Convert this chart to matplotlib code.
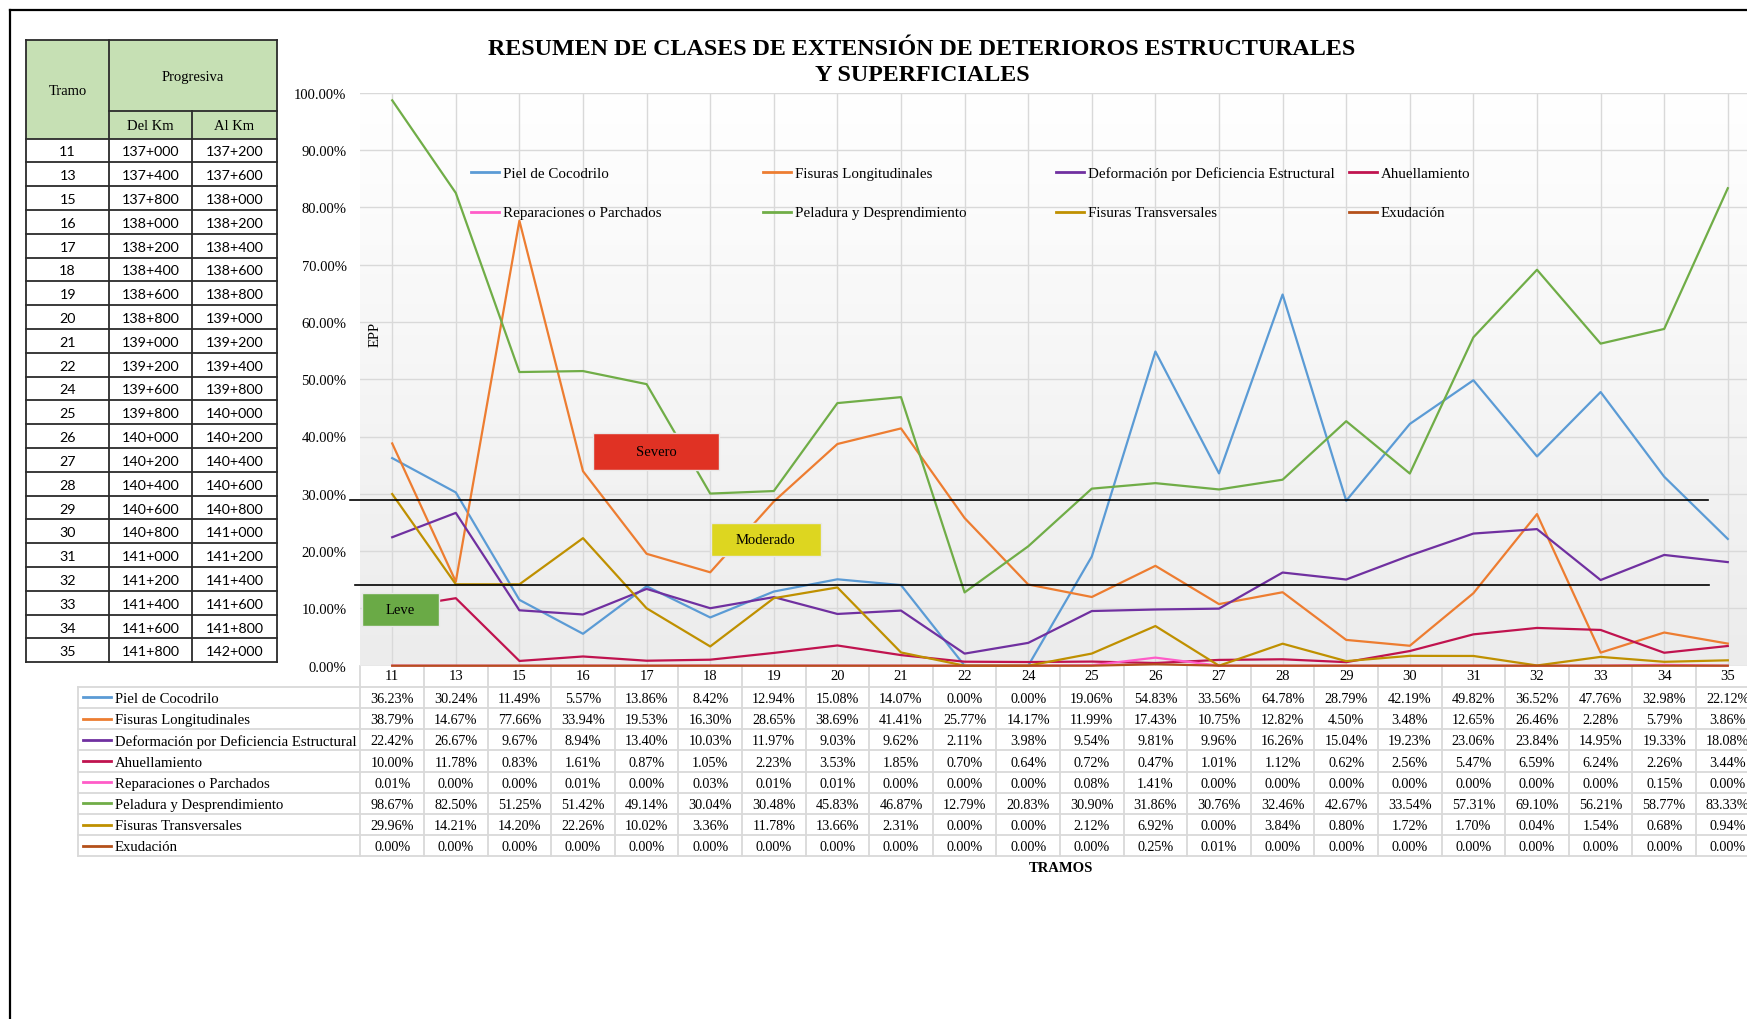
import matplotlib
matplotlib.use("Agg")
import matplotlib.pyplot as plt
import numpy as np
from matplotlib.colors import LinearSegmentedColormap
from matplotlib.patches import Rectangle
from matplotlib.ticker import PercentFormatter

# ---------------- data ----------------
tramos = ["11", "13", "15", "16", "17", "18", "19", "20", "21", "22", "24",
          "25", "26", "27", "28", "29", "30", "31", "32", "33", "34", "35"]
del_km = ["137+000", "137+400", "137+800", "138+000", "138+200", "138+400",
          "138+600", "138+800", "139+000", "139+200", "139+600", "139+800",
          "140+000", "140+200", "140+400", "140+600", "140+800", "141+000",
          "141+200", "141+400", "141+600", "141+800"]
al_km = ["137+200", "137+600", "138+000", "138+200", "138+400", "138+600",
         "138+800", "139+000", "139+200", "139+400", "139+800", "140+000",
         "140+200", "140+400", "140+600", "140+800", "141+000", "141+200",
         "141+400", "141+600", "141+800", "142+000"]

series_names = ["Piel de Cocodrilo", "Fisuras Longitudinales",
                "Deformación por Deficiencia Estructural", "Ahuellamiento",
                "Reparaciones o Parchados", "Peladura y Desprendimiento",
                "Fisuras Transversales", "Exudación"]

piel = [36.23, 30.24, 11.49, 5.57, 13.86, 8.42, 12.94, 15.08, 14.07, 0.00, 0.00,
        19.06, 54.83, 33.56, 64.78, 28.79, 42.19, 49.82, 36.52, 47.76, 32.98, 22.12]
fis_long = [38.79, 14.67, 77.66, 33.94, 19.53, 16.30, 28.65, 38.69, 41.41, 25.77, 14.17,
            11.99, 17.43, 10.75, 12.82, 4.50, 3.48, 12.65, 26.46, 2.28, 5.79, 3.86]
deform = [22.42, 26.67, 9.67, 8.94, 13.40, 10.03, 11.97, 9.03, 9.62, 2.11, 3.98,
          9.54, 9.81, 9.96, 16.26, 15.04, 19.23, 23.06, 23.84, 14.95, 19.33, 18.08]
ahuell = [10.00, 11.78, 0.83, 1.61, 0.87, 1.05, 2.23, 3.53, 1.85, 0.70, 0.64,
          0.72, 0.47, 1.01, 1.12, 0.62, 2.56, 5.47, 6.59, 6.24, 2.26, 3.44]
repar = [0.01, 0.00, 0.00, 0.01, 0.00, 0.03, 0.01, 0.01, 0.00, 0.00, 0.00,
         0.08, 1.41, 0.00, 0.00, 0.00, 0.00, 0.00, 0.00, 0.00, 0.15, 0.00]
pelad = [98.67, 82.50, 51.25, 51.42, 49.14, 30.04, 30.48, 45.83, 46.87, 12.79, 20.83,
         30.90, 31.86, 30.76, 32.46, 42.67, 33.54, 57.31, 69.10, 56.21, 58.77, 83.33]
fis_trans = [29.96, 14.21, 14.20, 22.26, 10.02, 3.36, 11.78, 13.66, 2.31, 0.00, 0.00,
             2.12, 6.92, 0.00, 3.84, 0.80, 1.72, 1.70, 0.04, 1.54, 0.68, 0.94]
exud = [0.00, 0.00, 0.00, 0.00, 0.00, 0.00, 0.00, 0.00, 0.00, 0.00, 0.00,
        0.00, 0.25, 0.01, 0.00, 0.00, 0.00, 0.00, 0.00, 0.00, 0.00, 0.00]

series_values = [piel, fis_long, deform, ahuell, repar, pelad, fis_trans, exud]
series_colors = ["#5B9BD5", "#ED7D31", "#7030A0", "#C0134F",
                 "#FF5CC8", "#70AD47", "#BF9000", "#B4501A"]

# severity limits (fraction)
limite_severo = 0.29
limite_moderado = 0.14

# ---------------- figure ----------------
plt.rcParams["font.family"] = ["Liberation Serif", "DejaVu Serif"]
W, H = 1747, 1020
fig = plt.figure(figsize=(W / 100, H / 100), dpi=100)

# pixel overlay (behind) for frame + left table
pax = fig.add_axes([0, 0, 1, 1])
pax.set_xlim(0, W)
pax.set_ylim(H, 0)
pax.axis("off")
pax.set_zorder(0)

# pixel overlay (front) for legend
oax = fig.add_axes([0, 0, 1, 1])
oax.set_xlim(0, W)
oax.set_ylim(H, 0)
oax.axis("off")
oax.set_zorder(10)

# outer frame
pax.plot([9.7, W + 5], [10.7, 10.7], color="black", lw=1.6, clip_on=False)
pax.plot([9.7, 9.7], [10.7, H + 5], color="black", lw=1.6, clip_on=False)

# ----- left table -----
cx = [26, 109.3, 192.3, 276.7]
y_top, y_mid, y_head = 40.8, 111.5, 139.5
row_h = (663.3 - y_head) / len(tramos)
green = "#C6E0B4"
pax.add_patch(Rectangle((cx[0], y_top), cx[3] - cx[0], y_head - y_top,
                        facecolor=green, edgecolor="none"))
bc = "#2b2b2b"
blw = 1.3
pax.plot([cx[0], cx[3]], [y_top, y_top], color=bc, lw=blw)
pax.plot([cx[1], cx[3]], [y_mid, y_mid], color=bc, lw=blw)
for i in range(len(tramos) + 1):
    yy = y_head + i * row_h
    pax.plot([cx[0], cx[3]], [yy, yy], color=bc, lw=blw)
y_bot = y_head + len(tramos) * row_h
pax.plot([cx[0], cx[0]], [y_top, y_bot], color=bc, lw=blw)
pax.plot([cx[1], cx[1]], [y_top, y_bot], color=bc, lw=blw)
pax.plot([cx[2], cx[2]], [y_mid, y_bot], color=bc, lw=blw)
pax.plot([cx[3], cx[3]], [y_top, y_bot], color=bc, lw=blw)

pax.text((cx[0] + cx[1]) / 2, (y_top + y_head) / 2 + 1, "Tramo", ha="center", va="center", fontsize=10.5)
pax.text((cx[1] + cx[3]) / 2, (y_top + y_mid) / 2 + 1, "Progresiva", ha="center", va="center", fontsize=10.5)
pax.text((cx[1] + cx[2]) / 2, (y_mid + y_head) / 2 + 1, "Del Km", ha="center", va="center", fontsize=10.5)
pax.text((cx[2] + cx[3]) / 2, (y_mid + y_head) / 2 + 1, "Al Km", ha="center", va="center", fontsize=10.5)
for i, (t, d, a) in enumerate(zip(tramos, del_km, al_km)):
    yy = y_head + (i + 0.5) * row_h + 1
    pax.text((cx[0] + cx[1]) / 2, yy, t, ha="center", va="center", fontsize=10.3, family="Lato")
    pax.text((cx[1] + cx[2]) / 2, yy, d, ha="center", va="center", fontsize=10.3, family="Lato")
    pax.text((cx[2] + cx[3]) / 2, yy, a, ha="center", va="center", fontsize=10.3, family="Lato")

# ---------------- main chart ----------------
x0, x1, y0, y1 = 360.4, 1759.6, 93.7, 666.7
ax = fig.add_axes([x0 / W, 1 - y1 / H, (x1 - x0) / W, (y1 - y0) / H])
ax.set_zorder(2)
ax.patch.set_alpha(0)
n = len(tramos)
x = np.arange(n)
ax.set_xlim(-0.5, n - 0.5)
ax.set_ylim(0, 1)

grad = np.linspace(1, 0, 256).reshape(-1, 1)
cmap = LinearSegmentedColormap.from_list("bg", ["#FFFFFF", "#ECECEC"])
ax.imshow(grad, extent=[-0.5, n - 0.5, 0, 1], aspect="auto", cmap=cmap,
          origin="lower", zorder=0, vmin=0, vmax=1)

for name, vals, col in zip(series_names, series_values, series_colors):
    ax.plot(x, np.array(vals) / 100.0, color=col, lw=1.6, label=name,
            clip_on=False, zorder=3)

ax.set_yticks(np.arange(0, 1.001, 0.1))
ax.yaxis.set_major_formatter(PercentFormatter(1.0, decimals=2))
ax.set_xticks(x)
ax.set_xticklabels(tramos)
ax.tick_params(axis="both", length=0, labelsize=10.5)
ax.tick_params(axis="y", pad=10)
ax.tick_params(axis="x", pad=7.4)
for lbl in ax.get_xticklabels():
    lbl.set_va("center")
ax.grid(True, color="#D9D9D9", lw=1.0)
ax.set_axisbelow(True)
for s in ax.spines.values():
    s.set_visible(False)

oax.text(374.8, 334, "EPP", rotation=90, ha="center", va="center", fontsize=10.5)

# severity limit lines
ax.plot([-0.66, 20.69], [limite_severo, limite_severo], color="black", lw=1.2, zorder=5, clip_on=False)
ax.plot([-0.585, 20.71], [limite_moderado, limite_moderado], color="black", lw=1.2, zorder=5, clip_on=False)

# severity boxes
boxes = [("Severo", 3.157, 5.138, 0.342, 0.406, "#E03224"),
         ("Moderado", 5.01, 6.74, 0.1915, 0.249, "#DDD620"),
         ("Leve", -0.475, 0.733, 0.069, 0.127, "#6AAA46")]
for lab, bx0, bx1, by0, by1, col in boxes:
    ax.add_patch(Rectangle((bx0, by0), bx1 - bx0, by1 - by0, facecolor=col,
                           edgecolor="#E8E8E8", lw=1.0, zorder=6, clip_on=False))
    ax.text((bx0 + bx1) / 2, (by0 + by1) / 2, lab, ha="center", va="center",
            fontsize=10.5, zorder=7)

# legend (manual layout, row-major like the original)
leg_cols = [470.9, 763.5, 1056.5, 1349.0]
leg_rows = [173.3, 212.7]
for i, (name, col) in enumerate(zip(series_names, series_colors)):
    r, c = divmod(i, 4)
    lx, ly = leg_cols[c], leg_rows[r]
    oax.plot([lx, lx + 28], [ly, ly], color=col, lw=2.0)
    oax.text(lx + 32, ly + 1, name, ha="left", va="center", fontsize=10.8)

# title
fig.text(922 / W, 1 - 62.7 / H,
         "RESUMEN DE CLASES DE EXTENSIÓN DE DETERIOROS ESTRUCTURALES\nY SUPERFICIALES",
         ha="center", va="center", fontsize=17.3, fontweight="bold", linespacing=1.34)

# ---------------- data table ----------------
tax = fig.add_axes([x0 / W, 1 - 857.4 / H, (x1 - x0) / W, (857.4 - y1) / H])
tax.set_xlim(-0.5, n - 0.5)
tax.set_ylim(9, 0)
tax.axis("off")
tc = "#D9D9D9"
xl = -0.5 - (x0 - 78.4) / 63.6
for r in range(1, 10):
    tax.plot([xl, n - 0.5], [r, r], color=tc, lw=1.3, clip_on=False)
for k in range(n + 1):
    tax.plot([k - 0.5, k - 0.5], [0, 9], color=tc, lw=1.3, clip_on=False)
tax.plot([xl, xl], [1, 9], color=tc, lw=1.3, clip_on=False)

key0 = -0.5 - (x0 - 82.6) / 63.6
key1 = -0.5 - (x0 - 111.3) / 63.6
txt0 = -0.5 - (x0 - 114.8) / 63.6
for r, (name, vals, col) in enumerate(zip(series_names, series_values, series_colors)):
    yy = r + 1.5
    tax.plot([key0, key1], [yy, yy], color=col, lw=2.0, clip_on=False)
    tax.text(txt0, yy + 0.05, name, ha="left", va="center", fontsize=10.6, clip_on=False)
    for k, v in enumerate(vals):
        tax.text(k, yy + 0.05, f"{v:.2f}%", ha="center", va="center", fontsize=10.2, clip_on=False)

fig.text(1061 / W, 1 - 869 / H, "TRAMOS", ha="center", va="center",
         fontsize=10.5, fontweight="bold")

fig.savefig("out.png", dpi=100, facecolor="white")
